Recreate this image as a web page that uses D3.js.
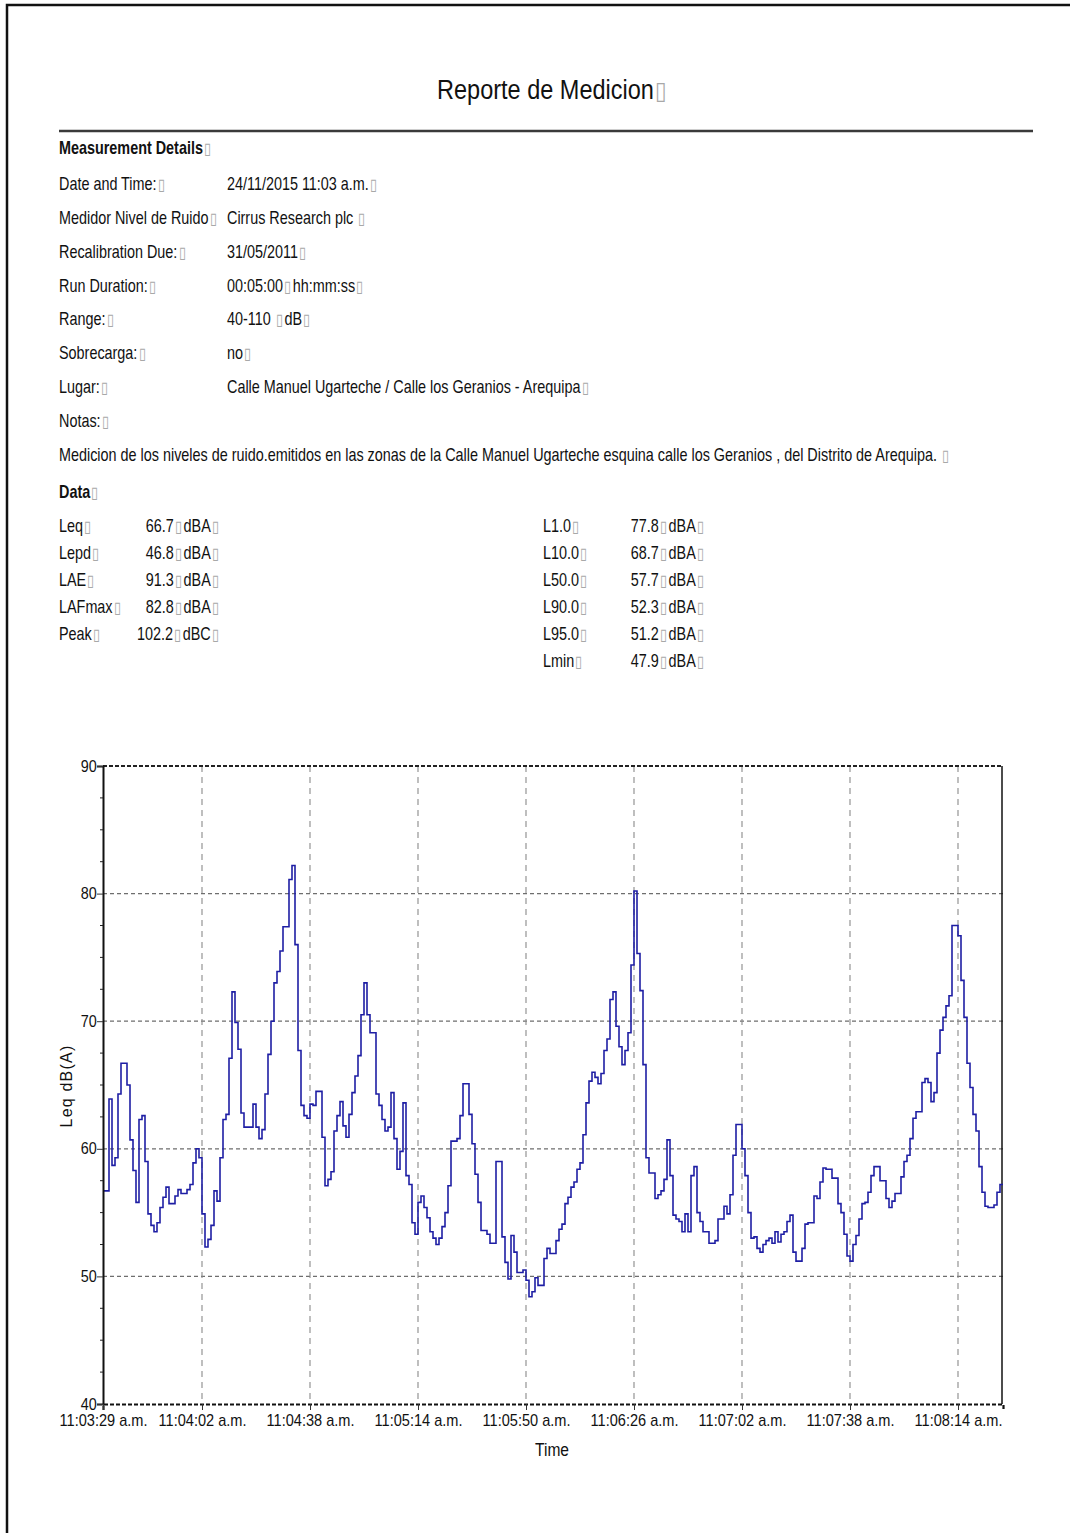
<!DOCTYPE html>
<html>
<head>
<meta charset="utf-8">
<script src="https://cdnjs.cloudflare.com/ajax/libs/d3/7.8.5/d3.min.js"></script>
<style>
  html, body { margin: 0; padding: 0; background: #fff; }
  svg { display: block; }
  text { font-family: 'Liberation Sans', Arial, sans-serif; fill: #111; }
  .box { fill: #a8a8a8; }
</style>
</head>
<body>
<script>
// ---- Report text ----
const reportTitle = "Reporte de Medicion□";
const detailsHeader = "Measurement Details□";
const detailLabels = ["Date and Time:□", "Medidor Nivel de Ruido□", "Recalibration Due:□", "Run Duration:□",
                      "Range:□", "Sobrecarga:□", "Lugar:□", "Notas:□"];
const detailValues = ["24/11/2015 11:03 a.m.□", "Cirrus Research plc □", "31/05/2011□", "00:05:00□hh:mm:ss□",
                      "40-110 □dB□", "no□", "Calle Manuel Ugarteche / Calle los Geranios - Arequipa□", ""];
const notesText = "Medicion de los niveles de ruido.emitidos en las zonas de la  Calle Manuel Ugarteche esquina calle  los Geranios , del Distrito de Arequipa. □";
const dataHeader = "Data□";
const summaryLeftNames  = ["Leq", "Lepd", "LAE", "LAFmax", "Peak"];
const summaryLeftValues = [66.7, 46.8, 91.3, 82.8, 102.2];
const summaryLeftUnits  = ["dBA", "dBA", "dBA", "dBA", "dBC"];
const summaryRightNames  = ["L1.0", "L10.0", "L50.0", "L90.0", "L95.0", "Lmin"];
const summaryRightValues = [77.8, 68.7, 57.7, 52.3, 51.2, 47.9];
const summaryRightUnits  = ["dBA", "dBA", "dBA", "dBA", "dBA", "dBA"];

// ---- Time history: Leq dB(A), one value per second from 11:03:29 ----
const startTime = "11:03:29";
const endTime = "11:08:29";
const leqMinute1 = [56.7, 56.7, 63.9, 58.7, 59.3, 64.3, 66.7, 66.7, 65.0, 60.7,
                    58.3, 55.8, 62.3, 62.6, 59.0, 54.9, 54.0, 53.5, 54.2, 55.4,
                    56.2, 57.0, 55.7, 55.7, 56.3, 56.8, 56.5, 56.5, 56.8, 57.2,
                    58.9, 60.0, 59.3, 54.9, 52.3, 52.9, 54.0, 56.7, 55.9, 59.3,
                    62.3, 62.7, 67.1, 72.3, 69.9, 67.8, 62.8, 61.7, 61.7, 61.7,
                    63.5, 61.7, 60.8, 61.5, 64.3, 67.4, 70.0, 73.0, 73.9, 75.5];
const leqMinute2 = [77.4, 77.4, 81.1, 82.2, 76.0, 67.7, 63.4, 62.6, 62.4, 63.5,
                    63.4, 64.5, 64.5, 60.9, 57.1, 57.6, 58.2, 61.4, 62.6, 63.7,
                    61.8, 60.9, 62.7, 64.4, 65.7, 67.3, 70.5, 73.0, 70.5, 69.1,
                    69.1, 64.3, 63.4, 62.3, 61.4, 61.7, 64.4, 60.8, 58.4, 59.8,
                    63.6, 57.9, 57.2, 54.2, 53.3, 55.8, 56.3, 55.4, 54.6, 53.5,
                    53.0, 52.5, 53.0, 53.9, 55.0, 57.1, 60.6, 60.6, 60.8, 62.6];
const leqMinute3 = [65.1, 65.1, 62.7, 60.4, 58.0, 55.8, 53.6, 53.6, 53.3, 52.6,
                    52.6, 59.0, 59.0, 53.1, 51.1, 49.8, 53.2, 51.9, 50.3, 50.3,
                    50.5, 49.7, 48.4, 48.8, 49.9, 49.3, 49.3, 51.4, 52.2, 51.8,
                    51.8, 52.8, 53.7, 54.1, 55.7, 56.2, 57.0, 57.4, 58.4, 58.9,
                    61.1, 63.6, 65.3, 66.0, 65.6, 65.1, 65.9, 67.7, 68.6, 71.7,
                    72.3, 69.6, 68.0, 66.6, 67.7, 69.1, 74.4, 80.2, 75.3, 72.4];
const leqMinute4 = [66.6, 59.3, 58.1, 58.1, 56.1, 56.4, 56.7, 57.6, 60.7, 57.9,
                    54.8, 54.5, 54.3, 53.5, 54.9, 53.5, 57.9, 58.6, 55.0, 54.3,
                    53.5, 53.5, 52.6, 52.6, 52.8, 54.5, 54.5, 55.5, 54.9, 56.4,
                    59.5, 61.9, 61.9, 60.0, 57.9, 55.0, 53.0, 53.1, 52.2, 51.9,
                    52.5, 52.8, 53.0, 52.6, 53.5, 52.7, 53.3, 53.5, 54.3, 54.8,
                    51.9, 51.2, 51.2, 52.2, 54.1, 54.2, 54.2, 56.3, 56.1, 57.4];
const leqMinute5 = [58.5, 58.4, 58.4, 57.7, 57.7, 55.7, 55.0, 53.3, 51.6, 51.2,
                    52.5, 53.2, 54.5, 55.7, 55.8, 56.6, 57.9, 58.6, 58.6, 57.5,
                    57.5, 56.1, 55.4, 55.9, 56.5, 56.5, 57.8, 59.0, 59.5, 60.8,
                    62.4, 62.9, 62.9, 65.2, 65.5, 65.2, 63.7, 64.4, 67.5, 69.3,
                    70.3, 71.2, 72.0, 77.5, 77.5, 76.7, 73.2, 70.3, 66.7, 64.8,
                    62.7, 61.4, 58.6, 56.6, 55.5, 55.4, 55.4, 55.6, 56.6, 57.2];

// ---- Axes ----
const yDomain = [40, 90];
const yTicks = [40, 50, 60, 70, 80, 90];
const xTickLabels = ["11:03:29 a.m.", "11:04:02 a.m.", "11:04:38 a.m.", "11:05:14 a.m.", "11:05:50 a.m.",
                     "11:06:26 a.m.", "11:07:02 a.m.", "11:07:38 a.m.", "11:08:14 a.m."];
const yTitle = "Leq dB(A)";
const xTitle = "Time";

// ------------------------------------------------------------------
const W = 1070, H = 1533;
const NARROW = 0.8;   // condensed report typeface
const svg = d3.select("body").append("svg").attr("width", W).attr("height", H);

// condensed text; the unprintable-character boxes are drawn as grey glyphs
function richText(g, str, o) {
  const grp = g.append("g").attr("transform", `translate(${o.x},${o.y}) scale(${o.sx || NARROW},1)`);
  const t = grp.append("text").attr("font-size", o.size || 18)
    .attr("text-anchor", o.anchor || "start").attr("font-weight", o.weight || null);
  str.split("□").forEach((part, i, arr) => {
    if (part) t.append("tspan").attr("dx", i > 0 ? 2 : null).text(part);
    if (i < arr.length - 1) t.append("tspan").attr("class", "box").attr("dx", 1.5)
      .attr("font-size", "0.9em").attr("font-weight", "normal").text("\u25AF");
  });
  return t;
}

// page frame
svg.append("path").attr("d", `M7,${H} V5 H${W}`).attr("fill", "none").attr("stroke", "#111").attr("stroke-width", 2.5);

// title + rule
richText(svg, reportTitle, { x: 552, y: 99, anchor: "middle", size: 28, sx: 0.84 });
svg.append("line").attr("x1", 59).attr("x2", 1033).attr("y1", 131).attr("y2", 131)
  .attr("stroke", "#3a3a3a").attr("stroke-width", 2.5);

// measurement details
richText(svg, detailsHeader, { x: 59, y: 154, weight: "bold" });
const rowY = d3.scalePoint().domain(d3.range(detailLabels.length)).range([190, 427]);
detailLabels.forEach((lab, i) => {
  richText(svg, lab, { x: 59, y: rowY(i) });
  if (detailValues[i]) richText(svg, detailValues[i], { x: 227, y: rowY(i) });
});
richText(svg, notesText, { x: 59, y: 461 });
richText(svg, dataHeader, { x: 59, y: 498, weight: "bold" });

const sumY = i => 532 + i * 27;
const fmt = d3.format(".1f");
summaryLeftNames.forEach((n, i) => {
  richText(svg, n + "□", { x: 59, y: sumY(i) });
  richText(svg, fmt(summaryLeftValues[i]) + "□" + summaryLeftUnits[i] + "□", { x: 219, y: sumY(i), anchor: "end" });
});
summaryRightNames.forEach((n, i) => {
  richText(svg, n + "□", { x: 543, y: sumY(i) });
  richText(svg, fmt(summaryRightValues[i]) + "□" + summaryRightUnits[i] + "□", { x: 704, y: sumY(i), anchor: "end" });
});

// ---- chart ----
const plot = { left: 103, right: 1003, top: 766, bottom: 1404 };
const day = "2015-11-24T";
const parseT = d3.timeParse("%Y-%m-%dT%H:%M:%S");
const t0 = parseT(day + startTime), t1 = parseT(day + endTime);
const x = d3.scaleTime().domain([t0, t1]).range([plot.left, plot.right]);
const y = d3.scaleLinear().domain(yDomain).range([plot.bottom, plot.top]);

const leq = [].concat(leqMinute1, leqMinute2, leqMinute3, leqMinute4, leqMinute5);
const series = leq.map((v, i) => ({ t: d3.timeSecond.offset(t0, i), v }));
series.push({ t: t1, v: leq[leq.length - 1] });

const xTickDates = xTickLabels.map(s => parseT(day + s.split(" ")[0]));

const chart = svg.append("g");

// grid
chart.append("g").selectAll("line").data(yTicks.filter(d => d > yDomain[0] && d < yDomain[1])).join("line")
  .attr("x1", plot.left).attr("x2", plot.right).attr("y1", d => y(d)).attr("y2", d => y(d))
  .attr("stroke", "#6e6e6e").attr("stroke-width", 1.3).attr("stroke-dasharray", "4,3");
chart.append("g").selectAll("line").data(xTickDates.slice(1)).join("line")
  .attr("x1", d => x(d)).attr("x2", d => x(d)).attr("y1", plot.top).attr("y2", plot.bottom)
  .attr("stroke", "#8a8a8a").attr("stroke-width", 1.1).attr("stroke-dasharray", "6,5");

// frame: dashed top/bottom, solid left/right
chart.append("line").attr("x1", plot.left).attr("x2", plot.right).attr("y1", plot.top).attr("y2", plot.top)
  .attr("stroke", "#222").attr("stroke-width", 2).attr("stroke-dasharray", "4,2");
chart.append("line").attr("x1", plot.right - 1).attr("x2", plot.right - 1).attr("y1", plot.top).attr("y2", plot.bottom)
  .attr("stroke", "#111").attr("stroke-width", 1.5);

// series
const line = d3.line().x(d => x(d.t)).y(d => y(d.v)).curve(d3.curveStepAfter);
chart.append("path").datum(series).attr("d", line)
  .attr("fill", "none").attr("stroke", "#1e1ea4").attr("stroke-width", 1.6);

// y axis
const yAxis = d3.axisLeft(y).tickValues(yTicks).tickSize(6).tickPadding(1).tickFormat(d3.format("d"));
const gy = chart.append("g").attr("transform", `translate(${plot.left},0)`).call(yAxis);
gy.select(".domain").attr("stroke", "#111").attr("stroke-width", 2);
gy.selectAll(".tick line").attr("stroke", "#333");
gy.selectAll(".tick text").attr("font-size", 16).attr("fill", "#111")
  .style("font-family", "'Liberation Sans', Arial, sans-serif").attr("transform", "scale(0.9,1)");
const yMinor = d3.range(yDomain[0], yDomain[1] + 0.01, 2.5).filter(v => v % 10 !== 0);
chart.append("g").selectAll("line").data(yMinor).join("line")
  .attr("x1", plot.left - 3).attr("x2", plot.left).attr("y1", d => y(d)).attr("y2", d => y(d))
  .attr("stroke", "#222").attr("stroke-width", 1);

// x axis
const xAxis = d3.axisBottom(x).tickValues(xTickDates).tickSize(6).tickPadding(5)
  .tickFormat((d, i) => xTickLabels[i]);
const gx = chart.append("g").attr("transform", `translate(0,${plot.bottom})`).call(xAxis);
gx.select(".domain").attr("stroke", "#111").attr("stroke-width", 2.2).attr("stroke-dasharray", "4,2");
gx.selectAll(".tick line").attr("stroke", "#333");
gx.selectAll(".tick text").attr("font-size", 16).attr("fill", "#111")
  .style("font-family", "'Liberation Sans', Arial, sans-serif").attr("transform", "scale(0.91,1)");

// axis titles
richText(chart, xTitle, { x: 552, y: 1456, anchor: "middle", size: 19, sx: 0.82 });
chart.append("text").attr("transform", "translate(72,1086) rotate(-90)").attr("text-anchor", "middle")
  .attr("font-size", 16).attr("letter-spacing", 1.2).text(yTitle);
</script>
</body>
</html>
